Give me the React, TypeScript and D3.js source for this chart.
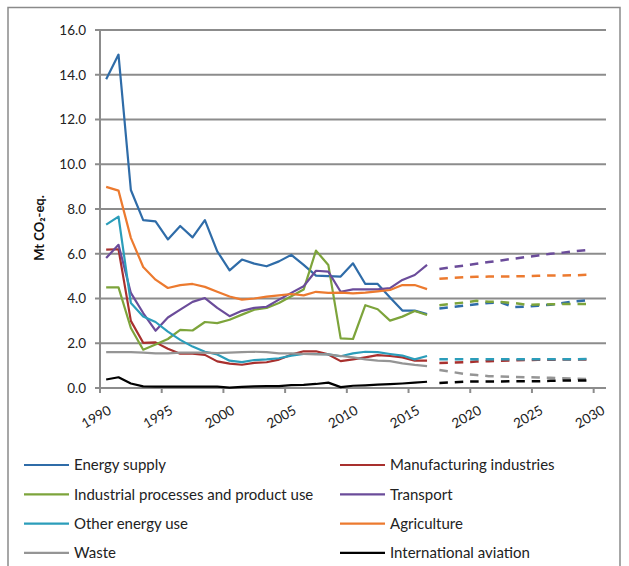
import React from "react";
import * as d3 from "d3";

// ---- data ----
const histYears = d3.range(1990, 2017);
const projYears = d3.range(2017, 2030);
const allYears = d3.range(1990, 2031);
const yTicks = [0, 2, 4, 6, 8, 10, 12, 14, 16];
const xTickYears = [1990, 1995, 2000, 2005, 2010, 2015, 2020, 2025, 2030];

const energySupply = [13.8, 14.9, 8.85, 7.5, 7.45, 6.64, 7.24, 6.73, 7.5, 6.11, 5.26, 5.74, 5.56, 5.44, 5.66, 5.95, 5.5, 5.02, 5.0, 4.98, 5.57, 4.65, 4.65, 4.05, 3.46, 3.46, 3.3];
const manufacturing = [6.18, 6.2, 3.0, 2.02, 2.04, 1.75, 1.53, 1.54, 1.48, 1.19, 1.09, 1.04, 1.12, 1.15, 1.27, 1.49, 1.64, 1.64, 1.5, 1.2, 1.28, 1.37, 1.47, 1.43, 1.37, 1.22, 1.22];
const industrial = [4.5, 4.5, 2.68, 1.71, 1.94, 2.19, 2.6, 2.57, 2.95, 2.9, 3.05, 3.28, 3.5, 3.58, 3.8, 4.1, 4.4, 6.14, 5.5, 2.22, 2.19, 3.7, 3.52, 3.01, 3.19, 3.44, 3.26];
const transport = [5.81, 6.4, 4.25, 3.35, 2.56, 3.15, 3.5, 3.85, 4.02, 3.58, 3.21, 3.45, 3.58, 3.63, 3.95, 4.25, 4.55, 5.24, 5.2, 4.3, 4.41, 4.41, 4.41, 4.46, 4.83, 5.05, 5.5];
const otherEnergy = [7.3, 7.66, 3.8, 3.2, 2.95, 2.52, 2.15, 1.85, 1.62, 1.5, 1.22, 1.16, 1.25, 1.28, 1.33, 1.45, 1.52, 1.52, 1.5, 1.42, 1.55, 1.62, 1.6, 1.52, 1.45, 1.28, 1.43];
const agriculture = [8.99, 8.82, 6.71, 5.41, 4.84, 4.47, 4.6, 4.65, 4.52, 4.3, 4.09, 3.95, 4.0, 4.08, 4.14, 4.2, 4.14, 4.3, 4.25, 4.26, 4.23, 4.26, 4.32, 4.38, 4.6, 4.6, 4.42];
const waste = [1.6, 1.6, 1.6, 1.58, 1.55, 1.55, 1.58, 1.58, 1.58, 1.56, 1.58, 1.6, 1.62, 1.6, 1.55, 1.55, 1.52, 1.5, 1.5, 1.43, 1.37, 1.28, 1.22, 1.2, 1.1, 1.03, 0.98];
const aviation = [0.38, 0.48, 0.2, 0.07, 0.06, 0.06, 0.06, 0.06, 0.06, 0.06, 0.02, 0.05, 0.07, 0.08, 0.08, 0.13, 0.14, 0.18, 0.24, 0.04, 0.1, 0.12, 0.15, 0.17, 0.2, 0.24, 0.28];

const energySupplyProj = [3.55, 3.62, 3.68, 3.74, 3.8, 3.82, 3.62, 3.64, 3.68, 3.72, 3.8, 3.87, 3.92];
const manufacturingProj = [1.12, 1.13, 1.15, 1.18, 1.2, 1.22, 1.24, 1.25, 1.26, 1.26, 1.27, 1.27, 1.28];
const industrialProj = [3.7, 3.76, 3.82, 3.9, 3.86, 3.84, 3.8, 3.72, 3.73, 3.74, 3.75, 3.75, 3.75];
const transportProj = [5.32, 5.4, 5.47, 5.55, 5.63, 5.7, 5.78, 5.85, 5.92, 6.0, 6.05, 6.12, 6.17];
const otherEnergyProj = [1.28, 1.28, 1.28, 1.28, 1.28, 1.28, 1.28, 1.28, 1.28, 1.28, 1.28, 1.28, 1.3];
const agricultureProj = [4.88, 4.92, 4.95, 4.97, 4.98, 4.98, 4.99, 5.0, 5.02, 5.03, 5.03, 5.04, 5.06];
const wasteProj = [0.8, 0.72, 0.63, 0.58, 0.53, 0.51, 0.5, 0.48, 0.47, 0.46, 0.44, 0.42, 0.4];
const aviationProj = [0.22, 0.25, 0.28, 0.29, 0.29, 0.29, 0.3, 0.3, 0.3, 0.32, 0.33, 0.34, 0.34];

const seriesNames = [
  "Energy supply",
  "Manufacturing industries",
  "Industrial processes and product use",
  "Transport",
  "Other energy use",
  "Agriculture",
  "Waste",
  "International aviation",
];
const seriesColors = ["#2F6CA8", "#A8302E", "#7DA43B", "#6B4C9A", "#2B9DBA", "#EC7A2F", "#959595", "#000000"];
const histData = [energySupply, manufacturing, industrial, transport, otherEnergy, agriculture, waste, aviation];
const projData = [energySupplyProj, manufacturingProj, industrialProj, transportProj, otherEnergyProj, agricultureProj, wasteProj, aviationProj];

const FONT = "Lato, 'Open Sans', sans-serif";

export default function App() {
  const left = 100, right = 606, top = 30, bottom = 388;
  const x = d3.scaleBand<number>().domain(allYears).range([left, right]).paddingInner(0).paddingOuter(0);
  const bw = x.bandwidth();
  const cx = (yr: number) => (x(yr) as number) + bw / 2;
  const y = d3.scaleLinear().domain([0, 16]).range([bottom, top]);

  const line = d3.line<[number, number]>().x((d) => cx(d[0])).y((d) => y(d[1]));

  const gridColor = "#8C8C8C";

  return (
    <svg width={629} height={566} style={{ position: "absolute", left: 0, top: 0 }} fontFamily={FONT}>
      <rect x={0} y={0} width={629} height={566} fill="#fff" />
      <rect x={8} y={7.5} width={612} height={570} fill="none" stroke="#8A8A8A" strokeWidth={1.5} />
      {/* gridlines */}
      {yTicks.filter((t) => t > 0).map((t) => (
        <line key={"g" + t} x1={left} x2={right} y1={y(t)} y2={y(t)} stroke={gridColor} strokeWidth={2} />
      ))}
      {/* y axis */}
      <line x1={left} x2={left} y1={top} y2={bottom} stroke={gridColor} strokeWidth={2} />
      {yTicks.map((t) => (
        <g key={"yt" + t}>
          <line x1={left - 5} x2={left} y1={y(t)} y2={y(t)} stroke={gridColor} strokeWidth={2} />
          <text x={86} y={y(t)} dy="0.36em" textAnchor="end" fontSize={13.5} fill="#222">
            {t.toFixed(1)}
          </text>
        </g>
      ))}
      {/* x axis */}
      <line x1={left} x2={right} y1={bottom} y2={bottom} stroke={gridColor} strokeWidth={2} />
      {xTickYears.map((yr) => (
        <line key={"xt" + yr} x1={x(yr) as number} x2={x(yr) as number} y1={bottom} y2={bottom + 5} stroke={gridColor} strokeWidth={2} />
      ))}
      {xTickYears.map((yr) => (
        <text
          key={"xl" + yr}
          transform={`translate(${cx(yr) + 6},${413}) rotate(-30)`}
          textAnchor="end"
          fontSize={13.5}
          fill="#222"
        >
          {yr}
        </text>
      ))}
      {/* y title */}
      <text transform={`translate(44,228) rotate(-90)`} textAnchor="middle" fontSize={13} fontWeight="bold" fill="#111">
        Mt CO₂-eq.
      </text>
      {/* historic lines */}
      {histData.map((vals, i) => (
        <path
          key={"h" + i}
          d={line(vals.map((v, j) => [histYears[j], v] as [number, number])) || ""}
          fill="none"
          stroke={seriesColors[i]}
          strokeWidth={2.2}
          strokeLinejoin="round"
        />
      ))}
      {/* projections */}
      {projData.map((vals, i) => (
        <path
          key={"p" + i}
          d={line(vals.map((v, j) => [projYears[j], v] as [number, number])) || ""}
          fill="none"
          stroke={seriesColors[i]}
          strokeWidth={2.5}
          strokeDasharray="8.5,6.9"
        />
      ))}
      {/* legend */}
      {seriesNames.map((name, i) => {
        const col = i % 2;
        const row = Math.floor(i / 2);
        const lx = col === 0 ? 24 : 340;
        const ly = 465 + row * 29.3;
        return (
          <g key={"l" + i}>
            <line x1={lx} x2={lx + 45} y1={ly} y2={ly} stroke={seriesColors[i]} strokeWidth={2.2} />
            <text x={lx + 50} y={ly} dy="0.36em" fontSize={15} fill="#222">
              {name}
            </text>
          </g>
        );
      })}
    </svg>
  );
}
